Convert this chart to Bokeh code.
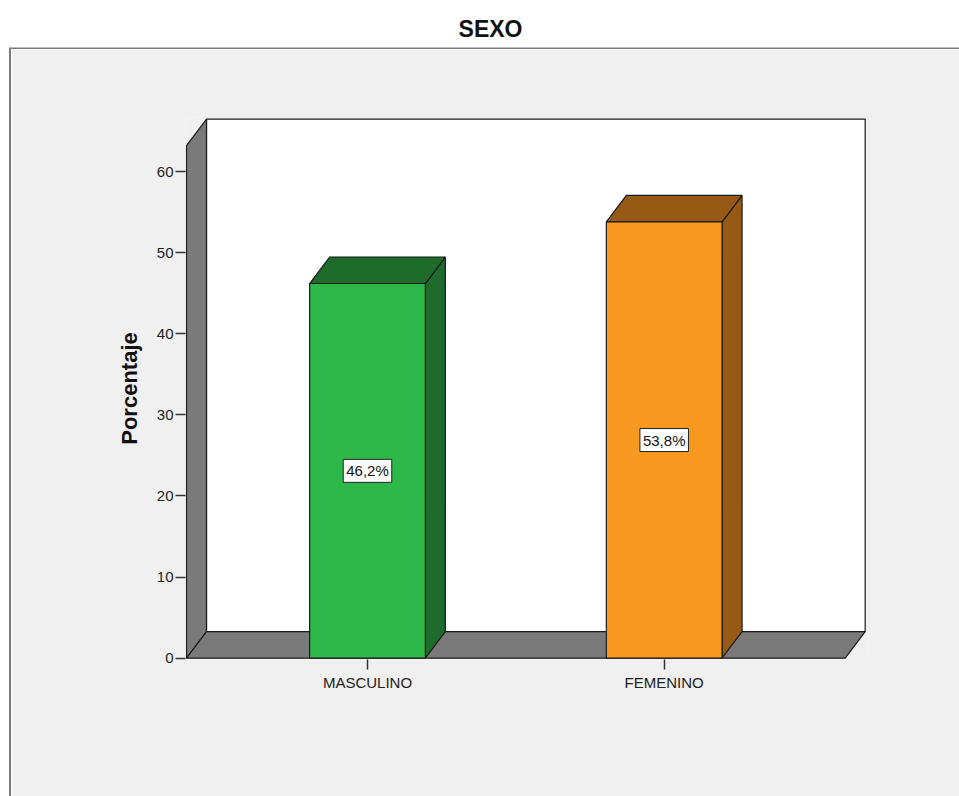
from bokeh.plotting import figure
from bokeh.models import ColumnDataSource, FixedTicker, Range1d, Div, Spacer
from bokeh.layouts import column, row
from bokeh.core.properties import value
from bokeh.embed import file_html
from bokeh.resources import INLINE

# ---- data ----
title_text = "SEXO"
categories = ["MASCULINO", "FEMENINO"]
percentages = [46.2, 53.8]
front_colors = ["#2EB84A", "#F7981F"]
shade_colors = ["#1E6B2C", "#975A14"]
y_ticks = [0, 10, 20, 30, 40, 50, 60]
y_label = "Porcentaje"

# ---- 3D geometry (data units) ----
positions = [i + 1 for i in range(len(categories))]
BAR_W = 0.39      # bar width in category units
DX = 0.0674       # depth offset, x
DY = 3.27         # depth offset, y
PAD = 0.61        # space between outer bar centres and walls
WALL_TOP = 63.2   # height of front edge of the left wall
X0 = positions[0] - PAD
X1 = positions[-1] + PAD

FONT = "Liberation Sans"
EDGE = "#1A1A1A"
BG = "#F0F0F0"
FRAME_LINE = "#7A7A7A"

# ---- title strip ----
top = figure(width=959, height=49, x_range=Range1d(0, 959), y_range=Range1d(0, 49),
             output_backend="svg", toolbar_location=None, x_axis_type=None, y_axis_type=None,
             min_border=0, outline_line_color=None, background_fill_color="white",
             border_fill_color="white")
top.grid.visible = False
top.text(x=[490], y=[21], text=[title_text], text_align="center", text_baseline="middle",
         text_font=value(FONT), text_font_size="23px", text_font_style="bold", text_color="#111111")
top.segment(x0=[8.5], y0=[1], x1=[959], y1=[1], line_color=FRAME_LINE, line_width=2)

# ---- left strip (white gap + frame line) ----
gap = Spacer(width=9, height=747, margin=0)
vline = Div(text="", width=2, height=747, margin=0,
            styles={"background-color": FRAME_LINE})

# ---- main chart ----
p = figure(width=948, height=747,
           x_range=Range1d(0.3866, 2.6852), y_range=Range1d(-0.16, 66.67),
           output_backend="svg", toolbar_location=None,
           min_border_left=174, min_border_right=92, min_border_top=68, min_border_bottom=137,
           background_fill_color=BG, border_fill_color=BG, outline_line_color=None)
p.grid.visible = False

# back wall
p.quad(left=[X0 + DX], right=[X1 + DX], bottom=[DY], top=[WALL_TOP + DY],
       fill_color="white", line_color=EDGE, line_width=1.2)
# left wall
p.patch(x=[X0, X0, X0 + DX, X0 + DX], y=[0, WALL_TOP, WALL_TOP + DY, DY],
        fill_color="#7A7A7A", line_color=EDGE, line_width=1.2)
# floor
p.patch(x=[X0, X1, X1 + DX, X0 + DX], y=[0, 0, DY, DY],
        fill_color="#7A7A7A", line_color=EDGE, line_width=1.2)

# bars
lefts = [c - BAR_W / 2 for c in positions]
rights = [c + BAR_W / 2 for c in positions]
side_xs = [[r, r + DX, r + DX, r] for r in rights]
side_ys = [[0, DY, v + DY, v] for v in percentages]
top_xs = [[l, r, r + DX, l + DX] for l, r in zip(lefts, rights)]
top_ys = [[v, v, v + DY, v + DY] for v in percentages]

shade_src = ColumnDataSource(dict(sx=side_xs, sy=side_ys, tx=top_xs, ty=top_ys, c=shade_colors))
p.patches(xs="sx", ys="sy", source=shade_src, fill_color="c", line_color=EDGE, line_width=1.2)
p.patches(xs="tx", ys="ty", source=shade_src, fill_color="c", line_color=EDGE, line_width=1.2)

bar_src = ColumnDataSource(dict(left=lefts, right=rights, top=percentages, color=front_colors,
                                x=positions, mid=[v / 2 for v in percentages],
                                label=[f"{v:.1f}%".replace(".", ",") for v in percentages]))
p.quad(left="left", right="right", bottom=0, top="top", source=bar_src,
       fill_color="color", line_color=EDGE, line_width=1.2)

p.text(x="x", y="mid", text="label", source=bar_src, text_align="center", text_baseline="middle",
       text_font=value(FONT), text_font_size="15px", text_color="#111111",
       background_fill_color="white", border_line_color="#222222", border_line_width=1, padding=3)

# axes
yax = p.yaxis[0]
yax.ticker = FixedTicker(ticks=y_ticks)
yax.axis_line_color = None
yax.major_tick_in = 0
yax.major_tick_out = 10
yax.major_tick_line_color = "#333333"
yax.major_tick_line_width = 1.5
yax.minor_tick_line_color = None
yax.major_label_standoff = 2
yax.major_label_text_font = FONT
yax.major_label_text_font_size = "15px"
yax.major_label_text_color = "#222222"
yax.axis_label = y_label
yax.axis_label_text_font = FONT
yax.axis_label_text_font_size = "22px"
yax.axis_label_text_font_style = "bold"
yax.axis_label_text_color = "#111111"
yax.axis_label_standoff = 12

xax = p.xaxis[0]
xax.ticker = FixedTicker(ticks=positions)
xax.major_label_overrides = {pos: cat for pos, cat in zip(positions, categories)}
xax.axis_line_color = None
xax.major_tick_in = 0
xax.major_tick_out = 10
xax.major_tick_line_color = "#333333"
xax.major_tick_line_width = 1.5
xax.minor_tick_line_color = None
xax.major_label_standoff = 4
xax.major_label_text_font = FONT
xax.major_label_text_font_size = "15px"
xax.major_label_text_color = "#222222"

layout = column(top, row(gap, vline, p, spacing=0), spacing=0)

open("out.html", "w").write(file_html(layout, INLINE))
